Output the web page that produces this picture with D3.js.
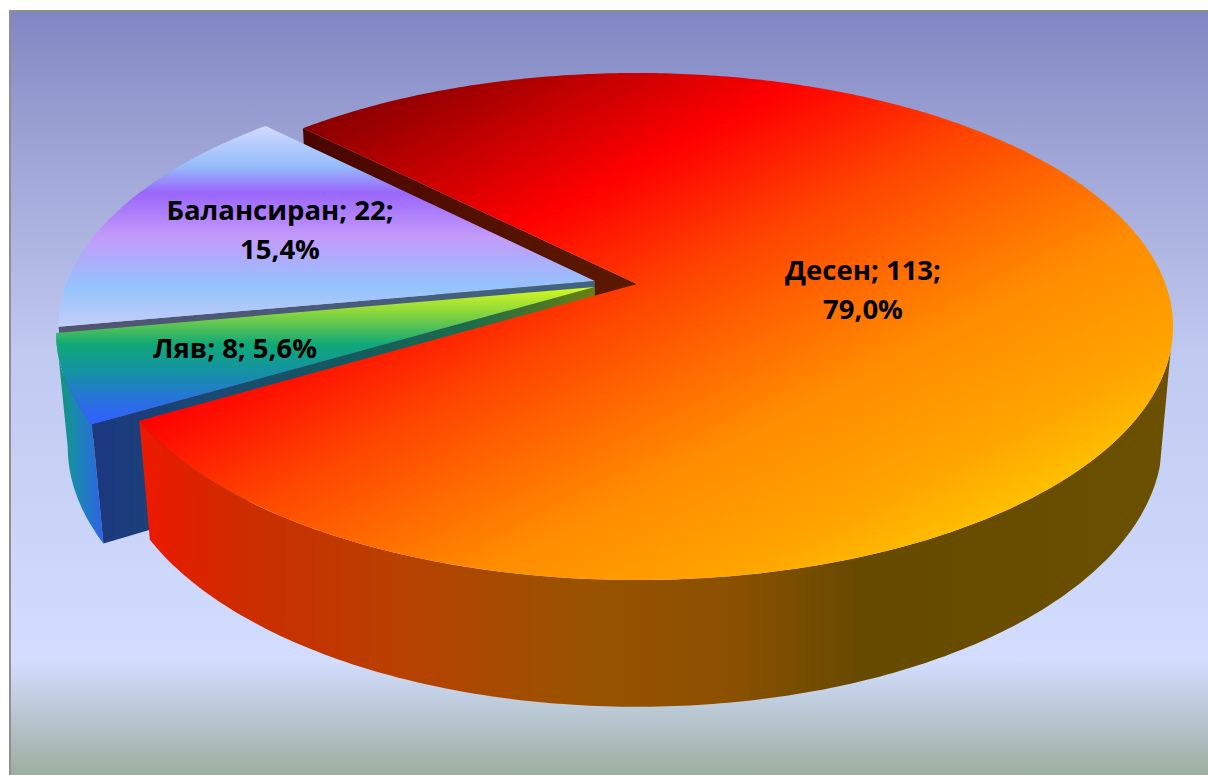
<!DOCTYPE html>
<html><head><meta charset="utf-8">
<script src="https://cdn.jsdelivr.net/npm/d3@7/dist/d3.min.js"></script>
<style>html,body{margin:0;padding:0;background:#fff;overflow:hidden}svg{display:block}
text{font-family:"Open Sans","Noto Sans",sans-serif;font-weight:700;fill:#000}</style>
</head><body><div id="c"></div>
<script>
const categories = ["Десен", "Ляв", "Балансиран"];
const values = [113, 8, 22];
const W = 1208, H = 775;

const svg = d3.select("#c").append("svg").attr("width", W).attr("height", H);
const defs = svg.append("defs");
function grad(id, x1, y1, x2, y2, stops) {
  const g = defs.append("linearGradient").attr("id", id).attr("gradientUnits", "userSpaceOnUse")
    .attr("x1", x1).attr("y1", y1).attr("x2", x2).attr("y2", y2);
  stops.forEach(([o, c]) => g.append("stop").attr("offset", o).attr("stop-color", c));
  return `url(#${id})`;
}
const bgFill = grad("bg", 0, 10, 0, 775, [[0,"#7f86c2"],[.15,"#9a9fd2"],[.45,"#c0c9f0"],[.85,"#d3ddff"],[1,"#9cae9f"]]);
const redTop = grad("redTop", 300, 127, 622, 750, [[0,"#860000"],[.27,"#ff0000"],[.44,"#ff4400"],[.68,"#ff8c00"],[.85,"#ffa400"],[.95,"#ffc000"]]);
const redWall = grad("redWall", 140, 0, 1170, 0, [[0,"#ee1800"],[.1,"#cc2c00"],[.25,"#b84000"],[.42,"#9a5200"],[.58,"#8a5000"],[.7,"#664a00"],[1,"#6a5000"]]);
const redCut = grad("redCut", 300, 0, 640, 0, [[0,"#4a0400"],[1,"#5c1a00"]]);
const purpleTop = grad("purpleTop", 0, 125, 0, 330, [[0,"#d4daff"],[.2,"#94bdfb"],[.33,"#9a66fb"],[.55,"#c39bf9"],[.79,"#93c3fc"],[1,"#c8cef8"]]);
const purpleCut = grad("purpleCut", 58, 0, 597, 0, [[0,"#525472"],[1,"#3f6480"]]);
const greenTop = grad("greenTop", 0, 283, 0, 423, [[0,"#e4ff1a"],[.2,"#90d83a"],[.44,"#10a878"],[.65,"#1590a8"],[.85,"#2a70e0"],[1,"#3060ff"]]);
const greenWall = grad("greenWall", 58, 0, 100, 0, [[0,"#12966f"],[.4,"#1a8ab0"],[1,"#2c68e0"]]);
const greenCut = grad("greenCut", 95, 0, 597, 0, [[0,"#1c3880"],[.25,"#1a4a70"],[.5,"#135a60"],[.75,"#1f6b4a"],[1,"#6b8010"]]);

svg.append("rect").attr("x", 9).attr("y", 10).attr("width", W - 9).attr("height", H - 10).attr("fill", bgFill);
svg.append("rect").attr("x", 9).attr("y", 10).attr("width", W - 9).attr("height", 2).attr("fill", "#8f8f8f");
svg.append("rect").attr("x", 9).attr("y", 10).attr("width", 2).attr("height", H - 10).attr("fill", "#8f8f8f");

// Tilted-disc projection: a = clockwise angle from the back of the pie, z = 0 on top, 1 on the base
const cx = 637, cy = 284, ax = 528.5, by = 246.4, cz = 113.8, k = 0.1677, m = 0.0197;
function project(u, v, z) {
  const s = 1 / (1 - k * v + m * z);
  return [cx + ax * u * s, cy + (by * v + cz * z) * s];
}
const shift = { "Десен": [0, 0], "Ляв": [-0.08, 0.012], "Балансиран": [-0.08, -0.012] };
const arcs = d3.pie().sort(null).value((d, i) => values[i])
  .startAngle(-Math.PI / 4).endAngle(Math.PI * 7 / 4)(categories);
const line = d3.line();

function rim(name, a0, a1, z) {
  const [du, dv] = shift[name];
  const n = Math.max(2, Math.ceil(Math.abs(a1 - a0) * 80));
  return d3.range(n + 1).map(i => {
    const a = a0 + (a1 - a0) * i / n;
    return project(Math.sin(a) + du, -Math.cos(a) + dv, z);
  });
}
function apex(name, z) { const [du, dv] = shift[name]; return project(du, dv, z); }
function topFace(d) {
  return line([apex(d.data, 0), ...rim(d.data, d.startAngle, d.endAngle, 0)]) + "Z";
}
function outerWall(name, a0, a1) {
  return line([...rim(name, a0, a1, 0), ...rim(name, a1, a0, 1)]) + "Z";
}
function cutWall(name, a) {
  const t = rim(name, a, a, 0)[0], b = rim(name, a, a, 1)[0];
  return line([apex(name, 0), t, b, apex(name, 1)]) + "Z";
}
function draw(path, fill) { svg.append("path").attr("d", path).attr("fill", fill); }

const [red, green, purple] = arcs;

draw(cutWall("Десен", red.startAngle), redCut);
draw(cutWall("Балансиран", purple.startAngle), purpleCut);
draw(topFace(purple), purpleTop);
draw(outerWall("Ляв", green.startAngle, green.endAngle), greenWall);
draw(cutWall("Ляв", green.startAngle), greenCut);
draw(topFace(green), greenTop);
draw(outerWall("Десен", Math.PI * 7 / 12, red.endAngle), redWall);
draw(topFace(red), redTop);

// Labels
const total = d3.sum(values);
const pct = d => d3.format(".1f")(d / total * 100).replace(".", ",") + "%";
const labelLines = [
  [`${categories[0]}; ${values[0]};`, pct(values[0])],
  [`${categories[1]}; ${values[1]}; ${pct(values[1])}`],
  [`${categories[2]}; ${values[2]};`, pct(values[2])]
];
const labelAnchors = [[863, 280], [235, 358], [280, 220]];
labelLines.forEach((ls, i) => {
  ls.forEach((t, j) => {
    svg.append("text").attr("x", labelAnchors[i][0]).attr("y", labelAnchors[i][1] + j * 39)
      .attr("text-anchor", "middle").attr("font-size", 27.5).text(t);
  });
});
</script></body></html>
